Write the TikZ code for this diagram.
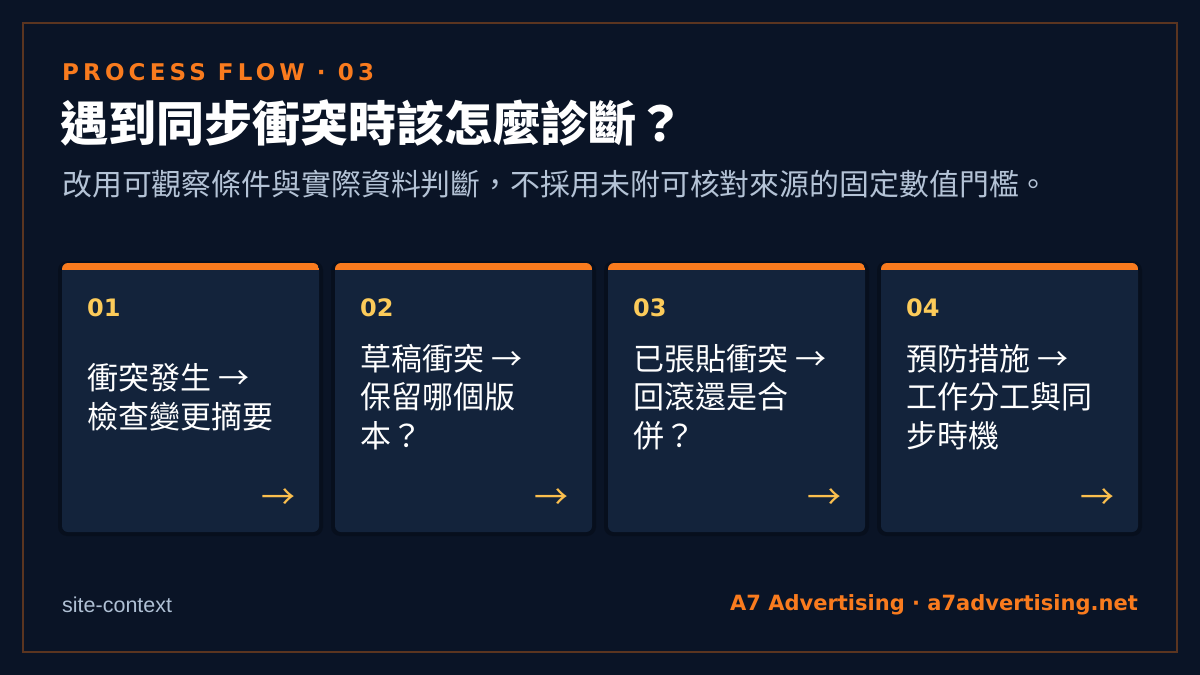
\documentclass[tikz,border=0pt]{standalone}
\usepackage{fontspec}
\setmainfont{DejaVu Sans}
\newfontfamily\cjk{Noto Sans CJK TC}
\newfontfamily\plain{Liberation Sans}
\newfontfamily\spaced[LetterSpace=18]{DejaVu Sans}
\definecolor{pagebg}{HTML}{0A1426}
\definecolor{framec}{HTML}{5B3520}
\definecolor{cardbg}{HTML}{13233B}
\definecolor{accent}{HTML}{F97B1E}
\definecolor{numc}{HTML}{FCCB5A}
\definecolor{goc}{HTML}{FBBF4E}
\definecolor{subc}{HTML}{B4C3D6}
\definecolor{footc}{HTML}{AFC0D4}
\begin{document}
\begin{tikzpicture}[x=1pt,y=-1pt,
  card/.style={fill=cardbg, rounded corners=6pt},
  halo/.style={fill=black, opacity=.22, rounded corners=9pt},
  num/.style={anchor=west, inner sep=0pt, text=numc, font=\fontsize{24}{24}\selectfont\bfseries},
  cardtext/.style={anchor=west, inner sep=0pt, align=left, text=white, font=\cjk\fontsize{31}{38.5}\selectfont},
  go/.style={anchor=east, inner sep=0pt, text=goc, font=\cjk\fontsize{34}{34}\selectfont}]
\useasboundingbox (0,0) rectangle (1200,675);
\fill[pagebg] (0,0) rectangle (1200,675);
\draw[framec, line width=2pt] (23,23) rectangle (1177,652);
% header
\node[anchor=base west, inner sep=0pt, text=accent, font=\spaced\fontsize{23}{23}\selectfont\bfseries] (kicker) at (62,80) {PROCESS FLOW · 03};
\node[anchor=west, inner sep=0pt, text=white, font=\cjk\fontsize{48}{48}\selectfont\bfseries] (title) at (60,123) {遇到同步衝突時該怎麼診斷？};
\node[anchor=west, inner sep=0pt, text=subc, font=\cjk\fontsize{29.9}{29.9}\selectfont] (lead) at (62,184.5) {改用可觀察條件與實際資料判斷，不採用未附可核對來源的固定數值門檻。};
% cards
\foreach \i/\x/\t in {01/62/{衝突發生 →\\檢查變更摘要}, 02/335/{草稿衝突 →\\保留哪個版\\本？}, 03/608/{已張貼衝突 →\\回滾還是合\\併？}, 04/881/{預防措施 →\\工作分工與同\\步時機}}{
  \fill[halo] (\x-4,261) rectangle ++(265,275);
  \fill[card] (\x,263) rectangle ++(257,269);
  \begin{scope}
    \clip[rounded corners=6pt] (\x,263) rectangle ++(257,269);
    \fill[accent] (\x,263) rectangle ++(257,7);
  \end{scope}
  \node[num] (num\i) at (\x+25,307.5) {\i};
  \node[cardtext] (txt\i) at (\x+25,397) {\t};
  \node[go] (go\i) at (\x+234,499) {→};
}
% footer
\node[anchor=west, inner sep=0pt, text=footc, font=\plain\fontsize{21.5}{21.5}\selectfont] (site) at (62,605) {site-context};
\node[anchor=east, inner sep=0pt, text=accent, font=\fontsize{21}{21}\selectfont\bfseries] (brand) at (1138,605) {A7 Advertising · a7advertising.net};
\end{tikzpicture}
\end{document}
